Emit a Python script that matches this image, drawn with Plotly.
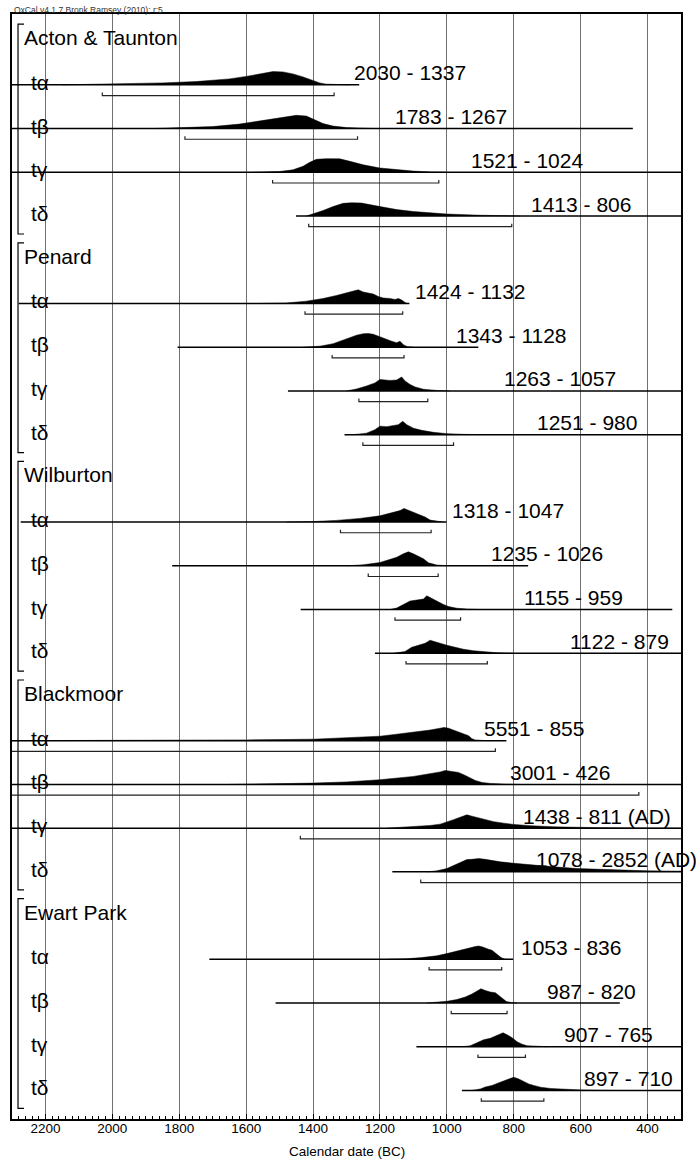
import plotly.graph_objects as go

# ---------------- data ----------------
GROUPS = ["Acton & Taunton", "Penard", "Wilburton", "Blackmoor", "Ewart Park"]
PARAMS = ["tα", "tβ", "tγ", "tδ"]
X_TICKS = [2200, 2000, 1800, 1600, 1400, 1200, 1000, 800, 600, 400]
AXIS_TITLE = "Calendar date (BC)"
CREDIT = "OxCal v4.1.7 Bronk Ramsey (2010); r:5"

# 95% ranges (years BC; negative = AD), 4 parameters per group in GROUPS order
RANGE_FROM = [2030, 1783, 1521, 1413,
              1424, 1343, 1263, 1251,
              1318, 1235, 1155, 1122,
              5551, 3001, 1438, 1078,
              1053, 987, 907, 897]
RANGE_TO = [1337, 1267, 1024, 806,
            1132, 1128, 1057, 980,
            1047, 1026, 959, 879,
            855, 426, -811, -2852,
            836, 820, 765, 710]

# extent of each plotted distribution (years BC)
SPAN_START = [2300, 2300, 2300, 1451,
              2280, 1805, 1475, 1306,
              2274, 1821, 1437, 1215,
              2300, 2300, 2300, 1163,
              1710, 1512, 1091, 955]
SPAN_END = [1262, 444, 300, 300,
            1112, 906, 300, 300,
            1001, 757, 326, 300,
            822, 300, 300, 300,
            802, 483, 300, 300]

# posterior densities (relative probability)
ACTON_YEARS = [
    [2150, 2050, 1950, 1850, 1750, 1650, 1600, 1550, 1520, 1490, 1460, 1430, 1400, 1380, 1360, 1330, 1290],
    [1880, 1800, 1700, 1620, 1560, 1500, 1450, 1420, 1395, 1370, 1340, 1300, 1230, 1200],
    [1580, 1500, 1460, 1430, 1410, 1390, 1360, 1320, 1290, 1250, 1200, 1150, 1100, 1050, 1000],
    [1420, 1400, 1370, 1340, 1310, 1285, 1255, 1200, 1150, 1100, 1000, 900, 820, 780],
]
ACTON_DENS = [
    [0, 0.5, 1.2, 2, 3.3, 6, 8.5, 11.5, 13.3, 13, 11, 8, 4.5, 2, 0.7, 0.4, 0],
    [0, 0.6, 2, 4.5, 7.5, 11, 13.3, 12.5, 9, 5, 2.5, 1, 0.2, 0],
    [0, 0.8, 2.5, 6, 10, 13, 13.7, 13.5, 11, 7.5, 4.3, 2.5, 1.2, 0.4, 0],
    [0, 2, 5.5, 9.5, 12.7, 13.3, 13, 9.5, 6.5, 4.5, 2, 0.8, 0.2, 0],
]
PENARD_YEARS = [
    [1560, 1480, 1420, 1370, 1330, 1300, 1275, 1265, 1250, 1235, 1220, 1205, 1190, 1170, 1155, 1145, 1135, 1125, 1118],
    [1430, 1380, 1340, 1300, 1270, 1250, 1235, 1220, 1205, 1185, 1165, 1150, 1140, 1130, 1118, 1100],
    [1300, 1270, 1240, 1215, 1200, 1190, 1170, 1150, 1135, 1125, 1110, 1095, 1070, 1030, 990],
    [1280, 1240, 1215, 1200, 1180, 1160, 1145, 1132, 1120, 1100, 1075, 1040, 1000, 950, 900],
]
PENARD_DENS = [
    [0, 0.5, 2.3, 5, 8, 10.5, 13, 13.7, 11.5, 10.5, 9.5, 7, 5.5, 5, 4, 5, 3.5, 1, 0],
    [0, 1, 3.5, 8.5, 12, 13.5, 13.7, 13, 11, 8.5, 6, 4.5, 6, 2.5, 0.5, 0],
    [0, 2, 5, 8, 11.5, 11, 10.5, 11, 14, 10, 6.5, 4, 1.7, 0.5, 0],
    [0, 1.5, 5, 8.5, 8, 9, 10, 13.3, 10, 6.5, 4.3, 2.3, 1, 0.3, 0],
]
WILBURTON_YEARS = [
    [1480, 1400, 1330, 1260, 1200, 1160, 1140, 1128, 1115, 1100, 1080, 1065, 1050, 1025, 1010],
    [1300, 1250, 1200, 1170, 1150, 1130, 1115, 1100, 1085, 1070, 1055, 1030, 1000],
    [1170, 1150, 1130, 1110, 1090, 1070, 1060, 1045, 1030, 1010, 995, 970, 940, 900],
    [1160, 1125, 1105, 1080, 1065, 1050, 1035, 1020, 1000, 975, 950, 920, 890, 850, 800],
]
WILBURTON_DENS = [
    [0, 0.5, 1.7, 3.7, 6.3, 9.7, 11.5, 13.7, 12, 9.7, 7, 5, 2, 0.3, 0],
    [0, 1, 3.3, 6, 8.5, 12, 14, 12, 9.5, 7, 3, 0.8, 0],
    [0, 1.5, 5, 8.5, 9.5, 10.5, 13.7, 11, 8, 5, 3, 1.3, 0.4, 0],
    [0, 1.7, 6, 9, 10, 13, 11.5, 9.5, 8, 6, 4, 2.5, 1.5, 0.5, 0],
]
BLACKMOOR_YEARS = [
    [2300, 2000, 1800, 1600, 1400, 1250, 1200, 1150, 1100, 1050, 1020, 1008, 995, 980, 960, 945, 935, 925, 915, 890, 870],
    [1650, 1550, 1400, 1300, 1200, 1100, 1050, 1020, 1005, 985, 965, 945, 930, 915, 895, 870, 830, 780],
    [1180, 1100, 1050, 1020, 1000, 980, 960, 940, 925, 905, 880, 860, 830, 800, 750, 680, 550, 350, 300],
    [1060, 1030, 1000, 975, 955, 940, 925, 905, 885, 860, 840, 790, 740, 680, 610, 540, 480, 400, 300],
]
BLACKMOOR_DENS = [
    [0.05, 0.2, 0.4, 0.8, 1.5, 3.5, 4.5, 6.5, 8.5, 10.7, 12.5, 13.3, 12.5, 10.5, 8.5, 6.5, 5, 2, 0.8, 0.2, 0],
    [0, 0.3, 1.3, 2.5, 4.7, 8, 10.7, 12.5, 14, 13.3, 12, 9, 6.5, 4, 2, 1, 0.3, 0],
    [0, 1.3, 2.7, 4, 6, 8.5, 11, 13.3, 12, 10.3, 8.3, 6.5, 5, 3.7, 2.5, 1.3, 0.5, 0.2, 0.1],
    [0, 1, 3.3, 7, 10, 12.3, 12.5, 13.3, 12.5, 11, 10, 8.3, 6.7, 5, 3.3, 2.3, 1.7, 1, 0.7],
]
EWART_YEARS = [
    [1180, 1120, 1075, 1030, 1000, 975, 955, 930, 915, 905, 895, 885, 875, 865, 855, 845, 838, 828, 820],
    [1060, 1030, 1000, 970, 945, 925, 910, 898, 885, 870, 855, 845, 835, 822, 805, 790],
    [955, 930, 910, 890, 870, 855, 840, 832, 820, 805, 790, 775, 760, 730, 700],
    [925, 900, 885, 865, 850, 835, 815, 800, 785, 770, 755, 740, 720, 690, 650, 600, 550, 500],
]
EWART_DENS = [
    [0, 0.5, 1.7, 3.5, 5.7, 7.5, 9, 11.5, 12.8, 13.3, 12.5, 11, 10, 9, 6, 3.5, 1.7, 0.3, 0],
    [0, 0.5, 1.7, 3.5, 6, 9, 11.5, 14.3, 12.5, 11, 10.3, 7.5, 4.3, 1.5, 0.3, 0],
    [0, 1, 4, 7, 8.5, 10.7, 13, 14, 12, 9, 5, 2.5, 1, 0.2, 0],
    [0, 1.5, 3.5, 5, 7, 9, 11.5, 13.3, 11.5, 9, 6.5, 5, 3.3, 2, 1, 0.5, 0.2, 0],
]

DENS_YEARS = [ACTON_YEARS, PENARD_YEARS, WILBURTON_YEARS, BLACKMOOR_YEARS, EWART_YEARS]
DENS_VALUES = [ACTON_DENS, PENARD_DENS, WILBURTON_DENS, BLACKMOOR_DENS, EWART_DENS]

# ---------------- layout constants ----------------
# x position (years BC) of the left edge of each range label
RANGE_LABEL_X = [1283, 1161, 934, 754,
                 1102, 978, 836, 737,
                 991, 874, 776, 639,
                 895, 817, 778, 738,
                 783, 706, 656, 597]
X_RANGE = [2300, 300]
HEADER_X = 2271
PARAM_X = 2249
BRACKET_X = 2282
BRACKET_TICK_X = 2264

W, H = 696, 1170
M_L, M_R, M_T, M_B = 12, 15, 12, 51
ROW_PX = 43.8
FIRST_BASELINE_PX = 39.2
PLOT_BOTTOM_PX = H - M_B
Y_TOP = (M_T - FIRST_BASELINE_PX) / ROW_PX
Y_BOTTOM = (PLOT_BOTTOM_PX - FIRST_BASELINE_PX) / ROW_PX
U = 1.0 / ROW_PX  # one pixel in row units

FONT = "Liberation Sans, Arial, sans-serif"
BIG = 21

fig = go.Figure()


def add_line(xs, ys, width=1.3, color="black"):
    fig.add_trace(go.Scatter(x=xs, y=ys, mode="lines", line=dict(color=color, width=width),
                             hoverinfo="skip", showlegend=False))


for g, name in enumerate(GROUPS):
    head = g * 5
    fig.add_annotation(x=HEADER_X, y=head - 3.5 * U, text=name, xref="x", yref="y",
                       xanchor="left", yanchor="middle", showarrow=False,
                       font=dict(family=FONT, size=BIG, color="black"))
    top = head - 17 * U
    bottom = head + 4 + 18 * U
    add_line([BRACKET_TICK_X, BRACKET_X, BRACKET_X, BRACKET_TICK_X], [top, top, bottom, bottom], width=1.2)

    for p in range(4):
        i = g * 4 + p
        k = head + 1 + p
        yrs = DENS_YEARS[g][p]
        dens = DENS_VALUES[g][p]
        xs = [yrs[0]] + list(yrs) + [yrs[-1]]
        ys = [k] + [k - d * U for d in dens] + [k]
        fig.add_trace(go.Scatter(x=xs, y=ys, mode="lines", fill="toself", fillcolor="black",
                                 line=dict(color="black", width=0.5), hoverinfo="skip",
                                 showlegend=False))
        # baseline of distribution
        add_line([SPAN_START[i], SPAN_END[i]], [k, k], width=1.5)
        # 95% range bracket
        r0 = RANGE_FROM[i]
        r1 = RANGE_TO[i] + 1 if RANGE_TO[i] < 0 else RANGE_TO[i]
        yb = k + 10.7 * U
        tk = 3 * U
        add_line([r0, r0, r1, r1], [yb - tk, yb, yb, yb - tk], width=1.2, color="#222222")
        # labels
        fig.add_annotation(x=PARAM_X, y=k - 2.5 * U, text=PARAMS[p], xref="x", yref="y",
                           xanchor="left", yanchor="middle", showarrow=False,
                           font=dict(family=FONT, size=BIG, color="black"))
        to_txt = f"{abs(RANGE_TO[i])} (AD)" if RANGE_TO[i] < 0 else f"{RANGE_TO[i]}"
        fig.add_annotation(x=RANGE_LABEL_X[i], y=k - 12 * U, text=f"{RANGE_FROM[i]} - {to_txt}",
                           xref="x", yref="y", xanchor="left", yanchor="middle",
                           showarrow=False, font=dict(family=FONT, size=BIG, color="black"))

fig.add_annotation(x=0.5, y=(PLOT_BOTTOM_PX - 1152) / (PLOT_BOTTOM_PX - M_T), xref="paper", yref="paper",
                   text=AXIS_TITLE, showarrow=False, xanchor="center", yanchor="middle",
                   font=dict(family=FONT, size=13.5, color="black"))
fig.add_annotation(x=0, y=1 + 4.5 / (PLOT_BOTTOM_PX - M_T), xref="paper", yref="paper",
                   text=CREDIT, showarrow=False, xanchor="left", yanchor="middle",
                   font=dict(family=FONT, size=8.5, color="#333333"))

fig.update_layout(
    width=W, height=H,
    margin=dict(l=M_L, r=M_R, t=M_T, b=M_B),
    paper_bgcolor="white", plot_bgcolor="white",
    showlegend=False,
    xaxis=dict(range=X_RANGE, tickvals=X_TICKS, ticktext=[str(v) for v in X_TICKS],
               ticks="inside", ticklen=5, tickcolor="black", tickwidth=1,
               minor=dict(dtick=20, ticks="inside", ticklen=3, tickcolor="black", showgrid=False),
               showgrid=True, gridcolor="#707070", gridwidth=1, zeroline=False,
               showline=True, mirror=True, linecolor="black", linewidth=1.5,
               ticklabelstandoff=-4,
               tickfont=dict(family=FONT, size=13.5, color="black")),
    yaxis=dict(range=[Y_BOTTOM, Y_TOP], showticklabels=False, showgrid=False, zeroline=False,
               ticks="", showline=True, mirror=True, linecolor="black", linewidth=1.5),
)

# remove the browser's default 8px page margin so the figure sits at the window's corner
fig.write_html("out.html", config={"displayModeBar": False},
               post_script="document.body.style.margin='0px';")
